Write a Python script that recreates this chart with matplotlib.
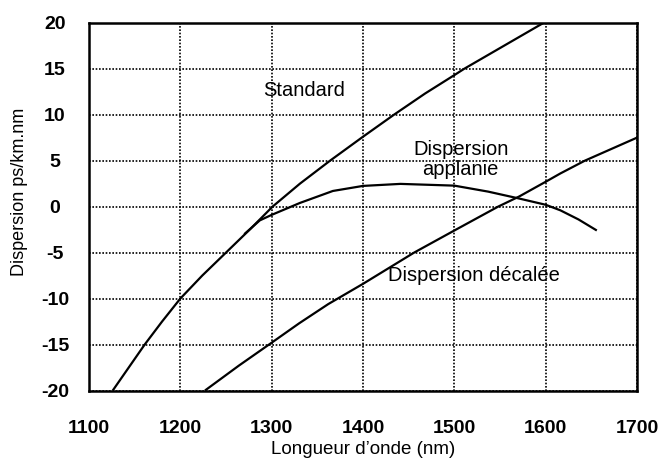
import matplotlib
matplotlib.use('Agg')
import matplotlib.pyplot as plt

plt.rcParams['font.family'] = ['Liberation Sans', 'DejaVu Sans']

# Data
std_x = [1126, 1161, 1180, 1200, 1224, 1250, 1277, 1301, 1331, 1364, 1400, 1434, 1468, 1500, 1511, 1551, 1598]
std_y = [-20, -15, -12.5, -10, -7.5, -5, -2.4, 0, 2.5, 5, 7.6, 10, 12.3, 14.3, 15, 17.3, 20]
flat_x = [1270, 1287, 1300, 1331, 1367, 1400, 1441, 1500, 1537, 1570, 1600, 1616, 1636, 1656]
flat_y = [-3.0, -1.5, -0.9, 0.4, 1.7, 2.25, 2.47, 2.28, 1.63, 0.9, 0.2, -0.4, -1.4, -2.6]
shift_x = [1227, 1264, 1300, 1330, 1362, 1400, 1456, 1500, 1548, 1571, 1600, 1616, 1643, 1700]
shift_y = [-20, -17.3, -14.8, -12.7, -10.6, -8.4, -5, -2.6, 0, 1.1, 2.7, 3.6, 5, 7.5]

x_ticks = [1100, 1200, 1300, 1400, 1500, 1600, 1700]
y_ticks = [-20, -15, -10, -5, 0, 5, 10, 15, 20]

fig = plt.figure(figsize=(6.63, 4.62), dpi=100)
ax = fig.add_axes([89/663, 1-390.5/462, (637-89)/663, (390.5-22.7)/462])

for xs, ys in [(std_x, std_y), (flat_x, flat_y), (shift_x, shift_y)]:
    ax.plot(xs, ys, color='black', lw=1.6, solid_capstyle='butt', solid_joinstyle='round')

ax.set_xlim(1100, 1700)
ax.set_ylim(-20, 20)
ax.set_xticks(x_ticks)
ax.set_yticks(y_ticks)
ax.set_xticklabels([str(v) for v in x_ticks], fontsize=14, fontweight='bold')
ax.set_yticklabels([str(v) for v in y_ticks], fontsize=14, fontweight='bold')
ax.tick_params(axis='both', length=0)
ax.tick_params(axis='x', pad=21)
ax.tick_params(axis='y', pad=24.5)
for t in ax.get_yticklabels():
    t.set_horizontalalignment('center')

ax.grid(True, color='black', lw=1.2, linestyle=(0, (1, 1)))
for s in ax.spines.values():
    s.set_linewidth(1.8)
    s.set_color('black')

ax.text(1335, 12.6, 'Standard', fontsize=14.5, ha='center', va='center')
ax.text(1507, 5.1, 'Dispersion\napplanie', fontsize=14.5, ha='center', va='center', linespacing=1.1)
ax.text(1521, -7.5, 'Dispersion décalée', fontsize=14.5, ha='center', va='center')

fig.text(20/663, 1-192/462, 'Dispersion ps/km.nm', rotation=90, fontsize=13, ha='center', va='center')
fig.text(363/663, 1-450/462, 'Longueur d\u2019onde (nm)', fontsize=13.5, ha='center', va='center')

fig.savefig('out.png', dpi=100)
